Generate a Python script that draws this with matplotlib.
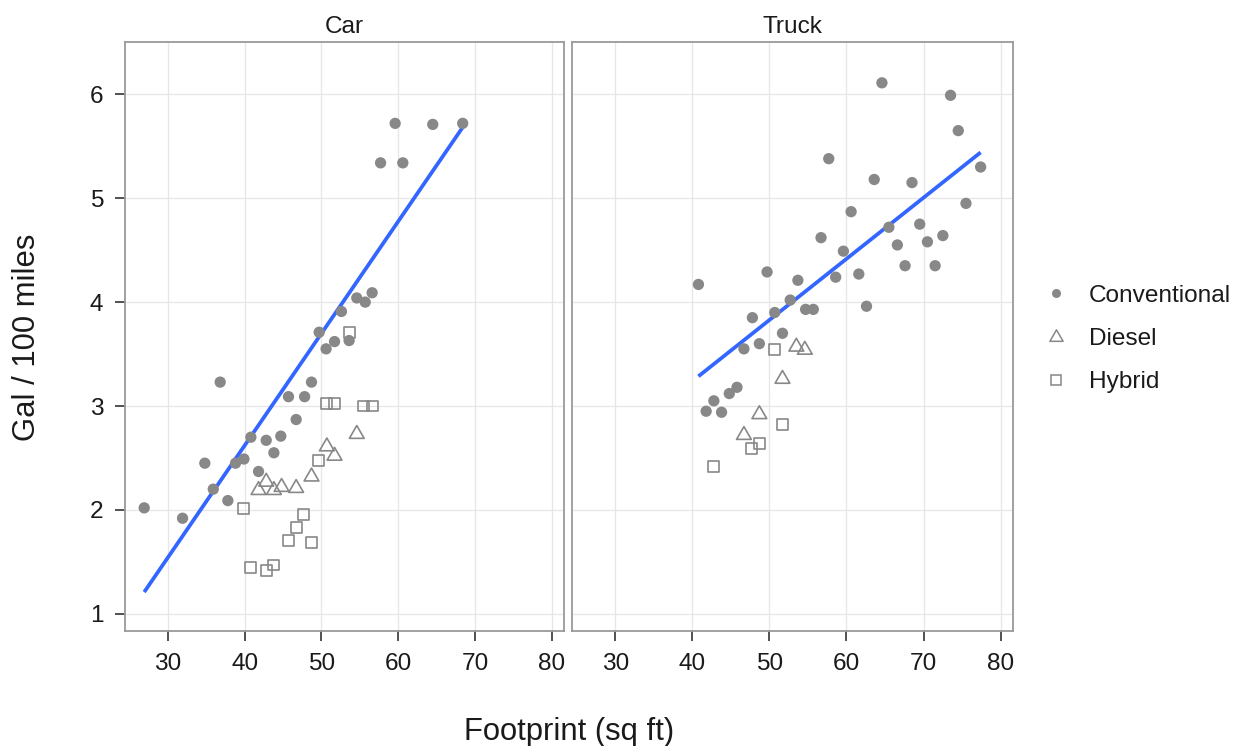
import numpy as np
import matplotlib
matplotlib.use("Agg")
import matplotlib.pyplot as plt
from matplotlib.path import Path
from matplotlib.lines import Line2D

plt.rcParams['font.family'] = ['Liberation Sans', 'DejaVu Sans']

# ---------------- data ----------------
panels = ["Car", "Truck"]
legend_labels = ["Conventional", "Diesel", "Hybrid"]
x_ticks = [30, 40, 50, 60, 70, 80]
y_ticks = [1, 2, 3, 4, 5, 6]

car_conv_x = [26.9, 31.9, 34.8, 35.9, 36.8, 37.8, 38.8, 39.9, 40.8, 41.8,
              42.8, 43.8, 44.7, 45.7, 46.7, 47.8, 48.7, 49.7, 50.6, 51.7,
              53.6, 52.6, 54.6, 55.7, 56.6, 57.7, 59.6, 60.6, 64.5, 68.4]
car_conv_y = [2.02, 1.92, 2.45, 2.20, 3.23, 2.09, 2.45, 2.49, 2.70, 2.37,
              2.67, 2.55, 2.71, 3.09, 2.87, 3.09, 3.23, 3.71, 3.55, 3.62,
              3.63, 3.91, 4.04, 4.00, 4.09, 5.34, 5.72, 5.34, 5.71, 5.72]

car_diesel_x = [41.8, 42.8, 43.8, 44.8, 46.7, 48.7, 50.7, 51.7, 54.6]
car_diesel_y = [2.19, 2.27, 2.19, 2.22, 2.21, 2.32, 2.61, 2.52, 2.73]

car_hybrid_x = [39.8, 40.8, 42.8, 43.8, 45.7, 46.7, 47.7, 48.7, 49.6, 50.6,
                51.7, 53.6, 55.5, 56.6]
car_hybrid_y = [2.01, 1.45, 1.42, 1.47, 1.71, 1.83, 1.96, 1.69, 2.48, 3.02,
                3.02, 3.71, 3.00, 3.00]

truck_conv_x = [64.6, 73.5, 74.5, 77.4, 57.7, 63.6, 68.5, 75.5, 60.6, 65.5,
                69.5, 56.7, 66.6, 70.5, 72.5, 59.6, 67.6, 71.5, 61.6, 58.6,
                49.7, 40.8, 53.7, 52.7, 54.7, 55.7, 62.6, 50.7, 47.8, 51.7,
                46.7, 48.7, 45.8, 44.8, 42.8, 41.8, 43.8]
truck_conv_y = [6.11, 5.99, 5.65, 5.30, 5.38, 5.18, 5.15, 4.95, 4.87, 4.72,
                4.75, 4.62, 4.55, 4.58, 4.64, 4.49, 4.35, 4.35, 4.27, 4.24,
                4.29, 4.17, 4.21, 4.02, 3.93, 3.93, 3.96, 3.90, 3.85, 3.70,
                3.55, 3.60, 3.18, 3.12, 3.05, 2.95, 2.94]

truck_diesel_x = [53.5, 54.6, 51.7, 48.7, 46.7]
truck_diesel_y = [3.57, 3.54, 3.26, 2.92, 2.72]

truck_hybrid_x = [50.7, 51.7, 48.7, 47.7, 42.8]
truck_hybrid_y = [3.54, 2.82, 2.64, 2.59, 2.42]

series = {
    "Car": [(car_conv_x, car_conv_y), (car_diesel_x, car_diesel_y), (car_hybrid_x, car_hybrid_y)],
    "Truck": [(truck_conv_x, truck_conv_y), (truck_diesel_x, truck_diesel_y), (truck_hybrid_x, truck_hybrid_y)],
}

# ---------------- style ----------------
W, H, DPI = 1240, 746, 100
PT_COL = "#888888"
LINE_COL = "#3366FF"
BORDER = "#9a9a9a"
GRID = "#e6e6e6"
FS_TICK = 17.6
FS_TITLE = 22.3

tri = Path([(0, 0.577), (-0.5, -0.289), (0.5, -0.289), (0, 0.577)],
           [Path.MOVETO, Path.LINETO, Path.LINETO, Path.CLOSEPOLY])

fig = plt.figure(figsize=(W / DPI, H / DPI), dpi=DPI)
lefts = [125 / W, 572 / W]
rights = [564 / W, 1013 / W]
bottom = 1 - 631 / H
top = 1 - 42.3 / H

axes = []
for i, name in enumerate(panels):
    ax = fig.add_axes([lefts[i], bottom, rights[i] - lefts[i], top - bottom])
    axes.append(ax)
    ax.set_xlim(24.4, 81.6)
    ax.set_ylim(0.835, 6.50)
    ax.set_xticks(x_ticks)
    ax.set_yticks(y_ticks)
    ax.grid(True, color=GRID, lw=0.9, zorder=0)
    ax.set_axisbelow(True)
    for sp in ax.spines.values():
        sp.set_color(BORDER)
        sp.set_linewidth(1.3)
    ax.tick_params(axis='both', direction='out', length=7.5, width=1.1,
                   color='#222222', labelsize=FS_TICK, labelcolor='#1a1a1a')
    ax.tick_params(axis='x', pad=8.5)
    ax.tick_params(axis='y', pad=8)
    if i == 1:
        ax.tick_params(axis='y', left=False, labelleft=False)
    ax.set_title(name, fontsize=FS_TICK, color='#1a1a1a', pad=7)

    (cx, cy), (dx, dy), (hx, hy) = series[name]
    # linear fit on conventional vehicles
    coef = np.polyfit(cx, cy, 1)
    xs = np.array([min(cx), max(cx)])
    ax.plot(xs, np.polyval(coef, xs), color=LINE_COL, lw=2.7, zorder=2,
            solid_capstyle='butt')
    ax.scatter(cx, cy, s=66, color=PT_COL, edgecolors='none', zorder=3)
    ax.scatter(dx, dy, s=150, marker=tri, facecolors='none', edgecolors=PT_COL,
               linewidths=1.2, zorder=3)
    ax.scatter(hx, hy, s=62, marker='s', facecolors='none', edgecolors=PT_COL,
               linewidths=1.2, zorder=3)

fig.text(569 / W, 1 - 732 / H, "Footprint (sq ft)", ha='center', va='center',
         fontsize=FS_TITLE, color='#1a1a1a')
fig.text(27 / W, 1 - 337 / H, "Gal / 100 miles", ha='center', va='center',
         rotation=90, fontsize=FS_TITLE, color='#1a1a1a')

handles = [
    Line2D([], [], ls='none', marker='o', ms=6.5, color=PT_COL, mec='none'),
    Line2D([], [], ls='none', marker=tri, ms=11, mfc='none', mec=PT_COL, mew=1.1),
    Line2D([], [], ls='none', marker='s', ms=6.5, mfc='none', mec=PT_COL, mew=1.1),
]
fig.legend(handles, legend_labels, loc='center left',
           bbox_to_anchor=(1043.7 / W, 1 - 339 / H), frameon=False,
           fontsize=FS_TICK, handlelength=1.0, handletextpad=0.84,
           borderpad=0, borderaxespad=0, labelspacing=0.86,
           labelcolor='#1a1a1a')

fig.savefig("out.png", dpi=DPI)
